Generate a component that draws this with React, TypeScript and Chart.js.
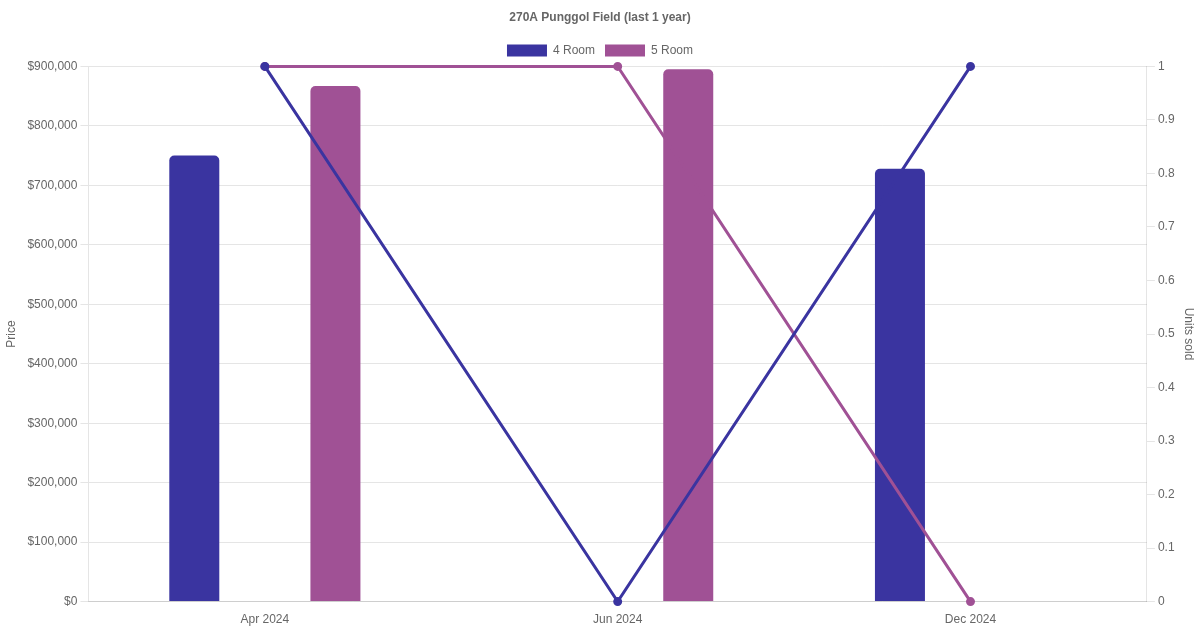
import React, { useEffect, useRef } from "react";
import { Chart, registerables } from "chart.js";

Chart.register(...registerables);

const categories = ["Apr 2024", "Jun 2024", "Dec 2024"];
const price4Room = [750000, null, 728000];
const price5Room = [867000, 895000, null];
const units4Room = [1, 0, 1];
const units5Room = [1, 1, 0];

const COLOR_4 = "#3a34a0";
const COLOR_5 = "#a05195";

export default function App() {
  const ref = useRef<HTMLCanvasElement | null>(null);
  useEffect(() => {
    document.body.style.margin = "0";
    Chart.defaults.font.family = "'Liberation Sans', Arial, sans-serif";
    Chart.defaults.color = "#666";
    const chart = new Chart(ref.current!, {
      type: "bar",
      data: {
        labels: categories,
        datasets: [
          {
            type: "bar",
            label: "4 Room",
            data: price4Room,
            backgroundColor: COLOR_4,
            borderColor: COLOR_4,
            borderRadius: 5,
            maxBarThickness: 50,
            yAxisID: "y",
            order: 1,
          },
          {
            type: "bar",
            label: "5 Room",
            data: price5Room,
            backgroundColor: COLOR_5,
            borderColor: COLOR_5,
            borderRadius: 5,
            maxBarThickness: 50,
            yAxisID: "y",
            order: 1,
          },
          {
            type: "line",
            label: "4 Room units",
            data: units4Room,
            borderColor: COLOR_4,
            backgroundColor: COLOR_4,
            borderWidth: 3,
            pointRadius: 3,
            tension: 0,
            clip: false,
            yAxisID: "y1",
            order: 0,
          },
          {
            type: "line",
            label: "5 Room units",
            data: units5Room,
            borderColor: COLOR_5,
            backgroundColor: COLOR_5,
            borderWidth: 3,
            pointRadius: 3,
            tension: 0,
            clip: false,
            yAxisID: "y1",
            order: 0,
          },
        ],
      } as any,
      options: {
        animation: false,
        responsive: false,
        maintainAspectRatio: false,
        plugins: {
          title: {
            display: true,
            text: "270A Punggol Field (last 1 year)",
            font: { size: 12, weight: "bold" },
          },
          legend: {
            labels: {
              filter: (item: any) => item.datasetIndex < 2,
            },
          },
          tooltip: { enabled: false },
        },
        scales: {
          x: {
            grid: { display: false },
          },
          y: {
            position: "left",
            min: 0,
            max: 900000,
            ticks: {
              stepSize: 100000,
              callback: (v: any) => "$" + Number(v).toLocaleString("en-US"),
            },
            title: { display: true, text: "Price" },
            afterFit: (axis: any) => {
              axis.width += 2;
            },
          },
          y1: {
            position: "right",
            min: 0,
            max: 1,
            ticks: {
              stepSize: 0.1,
              callback: (v: any) => String(Math.round(Number(v) * 10) / 10),
            },
            grid: { drawOnChartArea: false },
            title: { display: true, text: "Units sold" },
          },
        },
      } as any,
    });
    return () => chart.destroy();
  }, []);
  return (
    <div style={{ width: 1200, height: 630 }}>
      <canvas ref={ref} width={1200} height={630} style={{ display: "block" }} />
    </div>
  );
}
